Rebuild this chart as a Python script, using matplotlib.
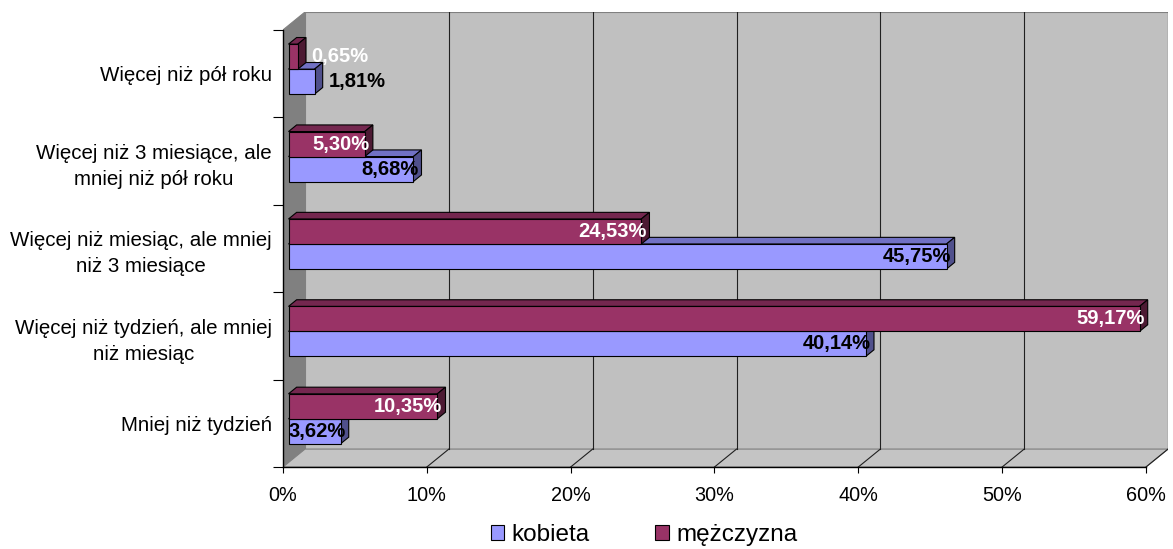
import matplotlib.pyplot as plt
from matplotlib.patches import Polygon, Patch

plt.rcParams['font.family'] = ['Liberation Sans', 'DejaVu Sans']

# data (categories listed top to bottom as in the chart)
categories = ['Więcej niż pół roku',
              'Więcej niż 3 miesiące, ale\nmniej niż pół roku',
              'Więcej niż miesiąc, ale mniej\nniż 3 miesiące',
              'Więcej niż tydzień, ale mniej\nniż miesiąc',
              'Mniej niż tydzień']
kobieta = [1.81, 8.68, 45.75, 40.14, 3.62]
mezczyzna = [0.65, 5.30, 24.53, 59.17, 10.35]
series_names = ['kobieta', 'mężczyzna']
x_ticks = [0, 10, 20, 30, 40, 50, 60]

# 3D look (depth of the box in data units)
DX, DY = 1.53, 0.205
F0, F1 = 0.25, 0.62          # bars sit between these depth fractions
BAR_H = 0.286
front_cols = ['#9999FF', '#993366']
top_cols = ['#7171C4', '#74274F']
side_cols = ['#50508C', '#4D1A33']
label_cols = ['black', 'white']

fig = plt.figure(figsize=(11.73, 5.49), dpi=100)
ax = fig.add_axes([283 / 1173, 82 / 549, 885 / 1173, 455 / 549])
xmax = x_ticks[-1]
n = len(categories)
ax.set_xlim(0, xmax + DX)
ax.set_ylim(n, -DY)
for s in ax.spines.values():
    s.set_visible(False)

# walls and floor
ax.add_patch(Polygon([(DX, -DY), (xmax + DX, -DY), (xmax + DX, n - DY), (DX, n - DY)],
                     closed=True, facecolor='#C0C0C0', edgecolor='#808080', lw=0.8, zorder=0))
ax.add_patch(Polygon([(0, 0), (DX, -DY), (DX, n - DY), (0, n)],
                     closed=True, facecolor='#808080', edgecolor='#808080', lw=0.8, zorder=0))
ax.add_patch(Polygon([(0, n), (xmax, n), (xmax + DX, n - DY), (DX, n - DY)],
                     closed=True, facecolor='#C4C4C4', edgecolor='#808080', lw=0.8, zorder=0))

# gridlines on back wall and floor
for t in x_ticks[1:]:
    ax.plot([t + DX, t + DX], [-DY, n - DY], color='#202020', lw=0.8, zorder=1)
    ax.plot([t, t + DX], [n, n - DY], color='#202020', lw=0.8, zorder=1)

# axis lines
ax.plot([0, 0], [0, n], color='black', lw=1, zorder=5, clip_on=False)
ax.plot([0, xmax], [n, n], color='black', lw=1, zorder=5, clip_on=False)


def bar3d(y_top, value, k):
    x0 = F0 * DX
    y0 = y_top - F0 * DY
    ddx = (F1 - F0) * DX
    ddy = (F1 - F0) * DY
    x1 = x0 + value
    y1 = y0 + BAR_H
    kw = dict(closed=True, edgecolor='black', lw=0.8, zorder=3)
    ax.add_patch(Polygon([(x0, y0), (x1, y0), (x1 + ddx, y0 - ddy), (x0 + ddx, y0 - ddy)],
                         facecolor=top_cols[k], **kw))
    ax.add_patch(Polygon([(x1, y0), (x1 + ddx, y0 - ddy), (x1 + ddx, y1 - ddy), (x1, y1)],
                         facecolor=side_cols[k], **kw))
    ax.add_patch(Polygon([(x0, y0), (x1, y0), (x1, y1), (x0, y1)],
                         facecolor=front_cols[k], **kw))
    txt = f'{value:.2f}'.replace('.', ',') + '%'
    ym = (y0 + y1) / 2
    if value < 2:
        ax.text(x1 + ddx + 0.4, ym, txt, ha='left', va='center', fontsize=14.5,
                fontweight='bold', color=label_cols[k], zorder=6)
    else:
        ax.text(x1 + 0.35, ym, txt, ha='right', va='center', fontsize=14.5,
                fontweight='bold', color=label_cols[k], zorder=6)


for i in range(n):
    bar3d(i + 0.5, kobieta[i], 0)
    bar3d(i + 0.5 - BAR_H, mezczyzna[i], 1)

# ticks
ax.set_xticks(x_ticks)
ax.set_xticklabels([f'{t}%' for t in x_ticks], fontsize=14.3)
ax.tick_params(axis='x', direction='out', length=4.5, width=0.8, pad=9)
ax.set_yticks(range(n + 1))
ax.set_yticklabels([])
ax.set_yticks([i + 0.5 for i in range(n)], minor=True)
ax.set_yticklabels(categories, minor=True, fontsize=14.8)
for lab in ax.get_yticklabels(minor=True):
    lab.set_multialignment('center')
    lab.set_linespacing(1.45)
ax.tick_params(axis='y', which='major', direction='out', length=7.5, width=0.8)
ax.tick_params(axis='y', which='minor', length=0, pad=8)

handles = [Patch(facecolor=front_cols[k], edgecolor='black', lw=0.8) for k in range(2)]
fig.legend(handles, series_names, loc='center', bbox_to_anchor=(644 / 1173, 14 / 549),
           ncol=2, frameon=False, fontsize=17.5, handlelength=0.55, handleheight=0.55,
           handletextpad=0.3, columnspacing=2.7, borderpad=0)

fig.savefig('out.png', dpi=100)
